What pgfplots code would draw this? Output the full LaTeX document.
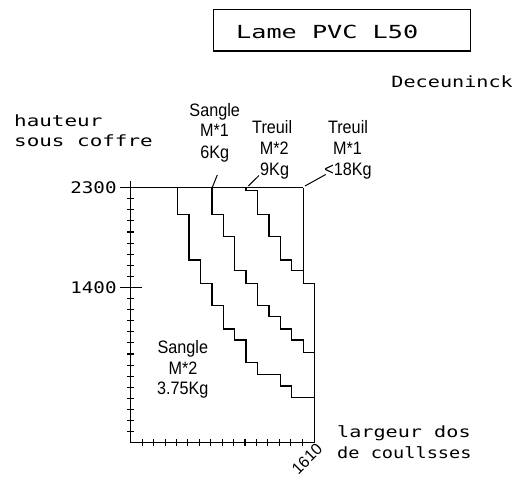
\documentclass[border=0pt]{standalone}
\usepackage{fontspec}
\usepackage{graphicx}
\usepackage{pgfplots}
\pgfplotsset{compat=1.18}
\newfontfamily\cad{DejaVu Sans Mono}
\newfontfamily\cadn{Liberation Sans}
\newcommand\W[2]{\scalebox{#1}[1]{#2}}
\begin{document}
\begin{tikzpicture}[x=1pt,y=1pt]
\useasboundingbox (0,0) rectangle (515,-485);
\begin{axis}[
  at={(130.8pt,-442.7pt)}, anchor=south west,
  x=0.1142pt, y=0.1109pt,
  xmin=0, xmax=1610, ymin=0, ymax=2360,
  axis x line*=bottom, axis y line*=left,
  axis line style={line width=1.3pt, black},
  clip=false,
  tick align=center,
  xtick={100,200,...,1500},
  xticklabel=\empty,
  ytick={100,200,...,2300},
  yticklabel=\empty,
  major tick length=7pt,
  every tick/.style={black, line width=1.1pt},
  extra y ticks={1400,2300},
  extra y tick labels={\W{1.2}{1400},\W{1.2}{2300}},
  extra y tick style={major tick length=22pt,
    yticklabel style={font=\cad\fontsize{16}{16}\selectfont, anchor=east, inner sep=0pt, xshift=-3pt}},
]
\addplot[line width=1.3pt, black] coordinates {(0,2300) (1510,2300)};
% Sangle M*2 3.75Kg
\addplot[line width=1.3pt, black] coordinates {(410,2300) (410,2057) (510,2057) (510,1647) (610,1647) (610,1437) (710,1437) (710,1235) (810,1235) (810,1025) (910,1025) (910,926) (1010,926) (1010,721) (1110,721) (1110,615) (1310,615) (1310,511) (1410,511) (1410,406) (1610,406)};
% Sangle M*1 6Kg
\addplot[line width=1.3pt, black] coordinates {(710,2300) (710,2057) (810,2057) (810,1857) (910,1857) (910,1550) (1010,1550) (1010,1437) (1110,1437) (1110,1235) (1210,1235) (1210,1136) (1310,1136) (1310,1025) (1410,1025) (1410,926) (1510,926) (1510,815) (1610,815)};
% Treuil M*2 9Kg
\addplot[line width=1.3pt, black] coordinates {(1010,2300) (1010,2272) (1110,2272) (1110,2057) (1210,2057) (1210,1857) (1310,1857) (1310,1647) (1410,1647) (1410,1550) (1510,1550)};
% Treuil M*1 <18Kg
\addplot[line width=1.3pt, black] coordinates {(1510,2300) (1510,1437) (1610,1437) (1610,0)};
\end{axis}
% title box
\draw[line width=1.1pt] (213.3,-9.3) rectangle (470.7,-51);
\node[anchor=base west, inner sep=0, font=\cad\fontsize{18}{18}\selectfont] at (236,-38.3) {\W{1.4}{Lame PVC L50}};
\node[anchor=base east, inner sep=0, font=\cad\fontsize{15.5}{15.5}\selectfont] at (513,-87.3) {\W{1.3}{Deceuninck}};
\node[anchor=base west, inner sep=0, font=\cad\fontsize{15.5}{15.5}\selectfont] at (14,-126) {\W{1.35}{hauteur}};
\node[anchor=base west, inner sep=0, font=\cad\fontsize{15.5}{15.5}\selectfont] at (14,-146.7) {\W{1.35}{sous coffre}};
\node[anchor=base west, inner sep=0, font=\cad\fontsize{15.5}{15.5}\selectfont] at (337,-437) {\W{1.3}{largeur dos}};
\node[anchor=base west, inner sep=0, font=\cad\fontsize{15.5}{15.5}\selectfont] at (337,-458) {\W{1.2}{de coullsses}};
% curve labels
\begin{scope}[every node/.style={anchor=base, inner sep=0, font=\cadn\fontsize{18}{18}\selectfont}]
\node at (214.7,-116.7) {\W{0.9}{Sangle}};
\node at (214.5,-136.7) {\W{0.9}{M*1}};
\node at (214.7,-158.3) {\W{0.9}{6Kg}};
\node at (272.2,-133.3) {\W{0.9}{Treuil}};
\node at (274.2,-154) {\W{0.9}{M*2}};
\node at (274.6,-175) {\W{0.9}{9Kg}};
\node at (348,-133.3) {\W{0.9}{Treuil}};
\node at (347.5,-154) {\W{0.9}{M*1}};
\node at (348,-175) {\W{0.9}{<18Kg}};
\node at (182.8,-353) {\W{0.9}{Sangle}};
\node at (183,-374) {\W{0.9}{M*2}};
\node at (182.7,-394) {\W{0.9}{3.75Kg}};
\end{scope}
% leaders
\draw[line width=1pt] (212.3,-187.3) -- (217.3,-175);
\draw[line width=1pt] (248.3,-186) -- (259,-175.5);
\draw[line width=1pt] (305,-186) -- (325.7,-174.5);
% x label 1610
\node[rotate=45, inner sep=0, font=\cadn\fontsize{16}{16}\selectfont] at (307,-459) {1610};
\end{tikzpicture}
\end{document}
